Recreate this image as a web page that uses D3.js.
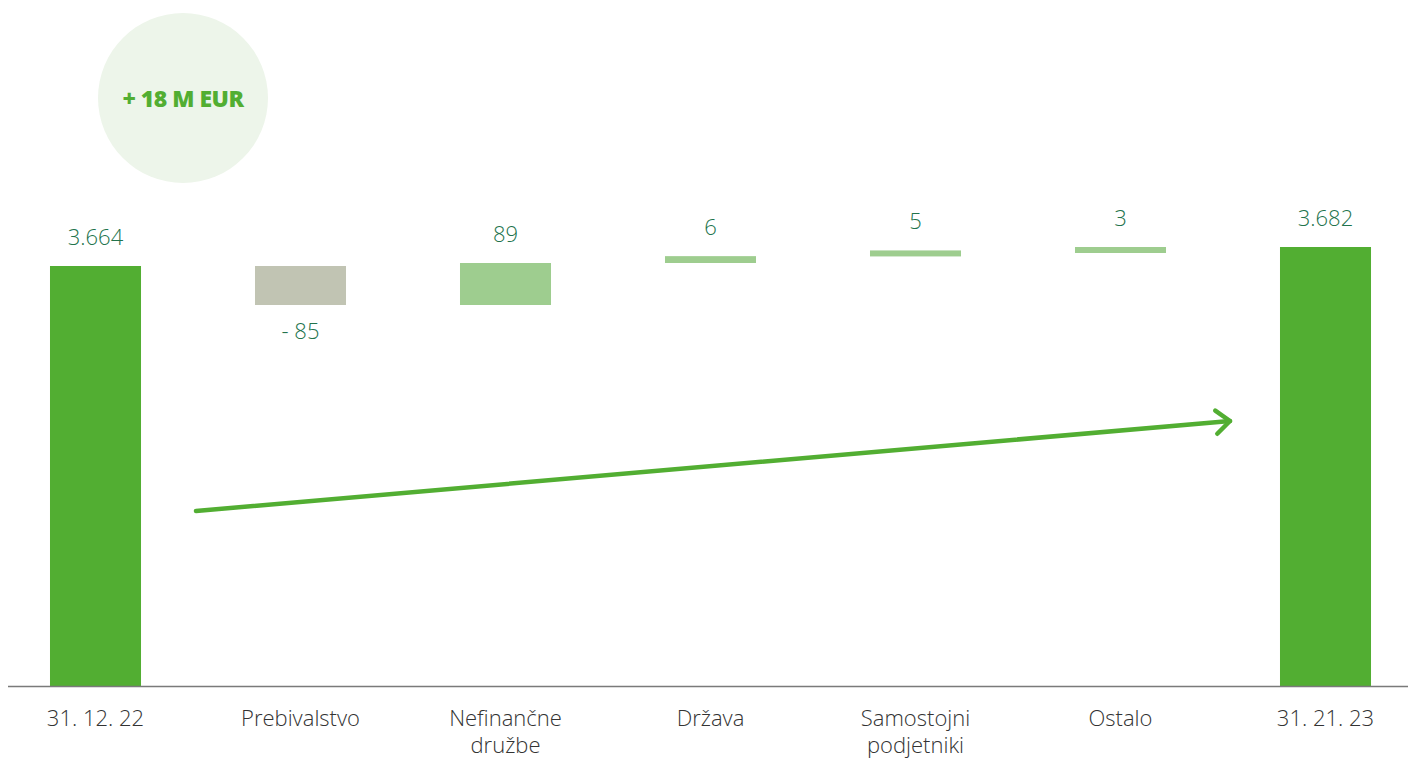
<html>
<head>
<meta charset="utf-8">
<style>
body { margin: 0; background: #fff; font-family: "Open Sans", sans-serif; }
.chart text { font-family: "Open Sans", sans-serif; }
.cat { font-size: 22px; font-weight: 300; fill: #333; }
.val { font-size: 22px; font-weight: 300; fill: #22734c; }
.badge { font-size: 23px; font-weight: 800; fill: #52ae32; letter-spacing: -0.5px; }
</style>
</head>
<body>
<script src="https://d3js.org/d3.v7.min.js"></script>
<script>

const width = 1408, height = 760;

// data
const categories = ['31. 12. 22', 'Prebivalstvo', 'Nefinančne družbe', 'Država', 'Samostojni podjetniki', 'Ostalo', '31. 21. 23'];
const values = [3664, -85, 89, 6, 5, 3, 3682];
const isTotal = [true, false, false, false, false, false, true];
const catLines = [['31. 12. 22'], ['Prebivalstvo'], ['Nefinančne', 'družbe'], ['Država'], ['Samostojni', 'podjetniki'], ['Ostalo'], ['31. 21. 23']];
const badgeText = '+ 18 M EUR';

// waterfall rows
let run = 0;
const rows = categories.map((c, i) => {
    let from, to;
    if (isTotal[i]) { from = null; to = values[i]; run = values[i]; }
    else { from = run; to = run + values[i]; run = to; }
    return { cat: c, lines: catLines[i], v: values[i], total: isTotal[i], from: from, to: to };
});

const svg = d3.select('body').append('svg')
    .attr('class', 'chart')
    .attr('width', width)
    .attr('height', height);

const baseY = 686;

const x = d3.scaleBand()
    .domain(categories)
    .range([-7, 1428])
    .paddingInner(0.556)
    .paddingOuter(0.278);

// broken value axis: totals are cut, changes are exaggerated
const y = d3.scaleLinear()
    .domain([3266, 3579, 3664, 3668, 3682])
    .range([baseY, 305, 266, 263, 247]);

const colour = d => d.total ? '#52ae32' : (d.v < 0 ? '#c1c4b3' : '#9ecd8f');
const minH = 6;

const fmtLocale = d3.formatLocale({ decimal: ',', thousands: '.', grouping: [3], currency: ['', ' EUR'] });
const fmt = fmtLocale.format(',d');
const label = d => d.v < 0 ? '- ' + fmt(-d.v) : fmt(d.v);

function barTop(d) {
    if (d.total) return y(d.to);
    return Math.min(y(d.from), y(d.to));
}
function barH(d) {
    if (d.total) return baseY - y(d.to);
    return Math.max(minH, Math.abs(y(d.from) - y(d.to)));
}

// badge circle
svg.append('circle')
    .attr('cx', 183).attr('cy', 98).attr('r', 85)
    .attr('fill', '#edf5ea');
svg.append('text')
    .attr('class', 'badge')
    .attr('x', 183).attr('y', 99)
    .attr('dy', '0.35em')
    .attr('text-anchor', 'middle')
    .text(badgeText);

// bars
svg.append('g').selectAll('rect')
    .data(rows)
    .join('rect')
    .attr('x', d => x(d.cat))
    .attr('width', x.bandwidth())
    .attr('y', barTop)
    .attr('height', barH)
    .attr('fill', colour);

// baseline
svg.append('line')
    .attr('x1', 8).attr('x2', width)
    .attr('y1', baseY + 0.5).attr('y2', baseY + 0.5)
    .attr('stroke', '#7a7a7a')
    .attr('stroke-width', 1.3);

// value labels
svg.append('g').selectAll('text')
    .data(rows)
    .join('text')
    .attr('class', 'val')
    .attr('x', d => x(d.cat) + x.bandwidth() / 2)
    .attr('y', d => d.v < 0 ? barTop(d) + barH(d) + 34 : barTop(d) - 21)
    .attr('text-anchor', 'middle')
    .text(label);

// category labels
const cl = svg.append('g').selectAll('text')
    .data(rows)
    .join('text')
    .attr('class', 'cat')
    .attr('x', d => x(d.cat) + x.bandwidth() / 2)
    .attr('y', baseY + 40)
    .attr('text-anchor', 'middle');
cl.selectAll('tspan')
    .data(d => d.lines.map(l => ({ l: l, x: x(d.cat) + x.bandwidth() / 2 })))
    .join('tspan')
    .attr('x', t => t.x)
    .attr('dy', (t, i) => i === 0 ? 0 : 27)
    .text(t => t.l);

// trend arrow
const first = rows[0], last = rows[rows.length - 1];
const ax1 = x(first.cat) + x.bandwidth() + 55, ay1 = baseY - 175;
const ax2 = x(last.cat) - 50, ay2 = baseY - 265;
svg.append('line')
    .attr('x1', ax1).attr('y1', ay1)
    .attr('x2', ax2).attr('y2', ay2)
    .attr('stroke', '#52ae32')
    .attr('stroke-width', 4.5)
    .attr('stroke-linecap', 'round');
const ang = Math.atan2(ay2 - ay1, ax2 - ax1);
const hl = 18, ha = 0.7;
svg.append('path')
    .attr('d', d3.line()([
        [ax2 - hl * Math.cos(ang - ha), ay2 - hl * Math.sin(ang - ha)],
        [ax2, ay2],
        [ax2 - hl * Math.cos(ang + ha), ay2 - hl * Math.sin(ang + ha)]
    ]))
    .attr('fill', 'none')
    .attr('stroke', '#52ae32')
    .attr('stroke-width', 4.5)
    .attr('stroke-linecap', 'round')
    .attr('stroke-linejoin', 'round');

</script>
</body>
</html>
